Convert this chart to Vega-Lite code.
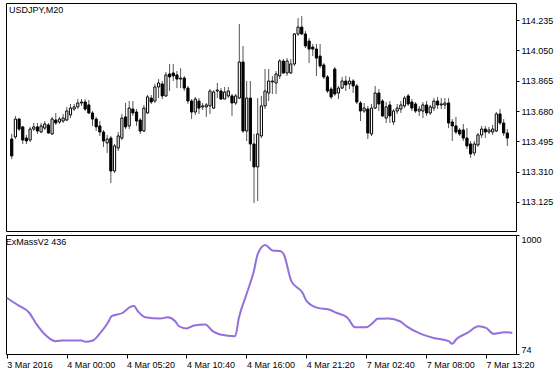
{
  "$schema": "https://vega.github.io/schema/vega-lite/v6.json",
  "padding": {"left": 2, "top": 2, "right": 0, "bottom": 0},
  "background": "#ffffff",
  "spacing": 2,
  "config": {
    "font": "Liberation Sans",
    "view": {"stroke": "#000000", "strokeWidth": 1},
    "axis": {"labelFont": "Liberation Sans", "labelFontSize": 9, "labelColor": "#000000", "tickColor": "#000000", "domain": false, "grid": false, "title": null, "labelOverlap": false},
    "title": {"font": "Liberation Sans", "fontSize": 9, "fontWeight": "normal", "color": "#000000", "anchor": "start"}
  },
  "datasets": {
    "candles": [
      {"i":0,"o":113.509,"h":113.540,"l":113.387,"c":113.406},
      {"i":1,"o":113.522,"h":113.650,"l":113.509,"c":113.631},
      {"i":2,"o":113.631,"h":113.637,"l":113.558,"c":113.570},
      {"i":3,"o":113.583,"h":113.589,"l":113.479,"c":113.503},
      {"i":4,"o":113.515,"h":113.534,"l":113.479,"c":113.497},
      {"i":5,"o":113.503,"h":113.583,"l":113.491,"c":113.570},
      {"i":6,"o":113.570,"h":113.607,"l":113.558,"c":113.583},
      {"i":7,"o":113.583,"h":113.607,"l":113.540,"c":113.558},
      {"i":8,"o":113.552,"h":113.607,"l":113.546,"c":113.589},
      {"i":9,"o":113.576,"h":113.619,"l":113.564,"c":113.601},
      {"i":10,"o":113.595,"h":113.607,"l":113.540,"c":113.546},
      {"i":11,"o":113.540,"h":113.644,"l":113.534,"c":113.631},
      {"i":12,"o":113.625,"h":113.668,"l":113.595,"c":113.607},
      {"i":13,"o":113.613,"h":113.644,"l":113.601,"c":113.631},
      {"i":14,"o":113.619,"h":113.662,"l":113.607,"c":113.637},
      {"i":15,"o":113.625,"h":113.705,"l":113.619,"c":113.680},
      {"i":16,"o":113.656,"h":113.723,"l":113.637,"c":113.698},
      {"i":17,"o":113.692,"h":113.723,"l":113.680,"c":113.705},
      {"i":18,"o":113.705,"h":113.753,"l":113.692,"c":113.729},
      {"i":19,"o":113.729,"h":113.753,"l":113.711,"c":113.735},
      {"i":20,"o":113.735,"h":113.753,"l":113.680,"c":113.692},
      {"i":21,"o":113.717,"h":113.747,"l":113.662,"c":113.668},
      {"i":22,"o":113.668,"h":113.680,"l":113.589,"c":113.631},
      {"i":23,"o":113.631,"h":113.644,"l":113.558,"c":113.583},
      {"i":24,"o":113.589,"h":113.619,"l":113.528,"c":113.552},
      {"i":25,"o":113.552,"h":113.564,"l":113.461,"c":113.497},
      {"i":26,"o":113.485,"h":113.534,"l":113.424,"c":113.509},
      {"i":27,"o":113.515,"h":113.528,"l":113.241,"c":113.314},
      {"i":28,"o":113.314,"h":113.479,"l":113.302,"c":113.467},
      {"i":29,"o":113.454,"h":113.552,"l":113.436,"c":113.528},
      {"i":30,"o":113.515,"h":113.662,"l":113.503,"c":113.637},
      {"i":31,"o":113.644,"h":113.729,"l":113.570,"c":113.583},
      {"i":32,"o":113.589,"h":113.741,"l":113.570,"c":113.698},
      {"i":33,"o":113.692,"h":113.741,"l":113.650,"c":113.668},
      {"i":34,"o":113.674,"h":113.692,"l":113.589,"c":113.619},
      {"i":35,"o":113.625,"h":113.637,"l":113.540,"c":113.558},
      {"i":36,"o":113.558,"h":113.717,"l":113.552,"c":113.698},
      {"i":37,"o":113.668,"h":113.778,"l":113.662,"c":113.766},
      {"i":38,"o":113.759,"h":113.778,"l":113.723,"c":113.735},
      {"i":39,"o":113.741,"h":113.845,"l":113.729,"c":113.827},
      {"i":40,"o":113.827,"h":113.875,"l":113.759,"c":113.851},
      {"i":41,"o":113.845,"h":113.863,"l":113.753,"c":113.772},
      {"i":42,"o":113.772,"h":113.918,"l":113.766,"c":113.900},
      {"i":43,"o":113.906,"h":113.967,"l":113.802,"c":113.888},
      {"i":44,"o":113.912,"h":113.967,"l":113.863,"c":113.894},
      {"i":45,"o":113.900,"h":113.924,"l":113.820,"c":113.875},
      {"i":46,"o":113.875,"h":113.942,"l":113.820,"c":113.881},
      {"i":47,"o":113.881,"h":113.894,"l":113.802,"c":113.820},
      {"i":48,"o":113.820,"h":113.833,"l":113.723,"c":113.741},
      {"i":49,"o":113.741,"h":113.753,"l":113.631,"c":113.674},
      {"i":50,"o":113.674,"h":113.766,"l":113.656,"c":113.753},
      {"i":51,"o":113.741,"h":113.759,"l":113.662,"c":113.698},
      {"i":52,"o":113.705,"h":113.729,"l":113.686,"c":113.711},
      {"i":53,"o":113.705,"h":113.729,"l":113.644,"c":113.717},
      {"i":54,"o":113.711,"h":113.814,"l":113.662,"c":113.802},
      {"i":55,"o":113.698,"h":113.808,"l":113.692,"c":113.796},
      {"i":56,"o":113.802,"h":113.851,"l":113.759,"c":113.808},
      {"i":57,"o":113.802,"h":113.820,"l":113.747,"c":113.753},
      {"i":58,"o":113.753,"h":113.827,"l":113.753,"c":113.796},
      {"i":59,"o":113.772,"h":113.827,"l":113.759,"c":113.802},
      {"i":60,"o":113.772,"h":113.784,"l":113.650,"c":113.729},
      {"i":61,"o":113.729,"h":113.784,"l":113.717,"c":113.772},
      {"i":62,"o":113.759,"h":114.211,"l":113.753,"c":113.979},
      {"i":63,"o":113.979,"h":114.077,"l":113.546,"c":113.558},
      {"i":64,"o":113.558,"h":113.863,"l":113.497,"c":113.759},
      {"i":65,"o":113.759,"h":113.863,"l":113.375,"c":113.479},
      {"i":66,"o":113.479,"h":113.540,"l":113.119,"c":113.339},
      {"i":67,"o":113.339,"h":113.759,"l":113.131,"c":113.540},
      {"i":68,"o":113.528,"h":113.772,"l":113.515,"c":113.711},
      {"i":69,"o":113.711,"h":113.936,"l":113.692,"c":113.802},
      {"i":70,"o":113.790,"h":113.936,"l":113.741,"c":113.863},
      {"i":71,"o":113.857,"h":113.894,"l":113.784,"c":113.863},
      {"i":72,"o":113.851,"h":113.924,"l":113.784,"c":113.906},
      {"i":73,"o":113.894,"h":113.997,"l":113.875,"c":113.985},
      {"i":74,"o":113.985,"h":113.997,"l":113.906,"c":113.912},
      {"i":75,"o":113.912,"h":114.003,"l":113.894,"c":113.985},
      {"i":76,"o":113.912,"h":113.997,"l":113.906,"c":113.967},
      {"i":77,"o":113.967,"h":114.156,"l":113.955,"c":114.150},
      {"i":78,"o":114.150,"h":114.247,"l":114.138,"c":114.192},
      {"i":79,"o":114.192,"h":114.259,"l":114.144,"c":114.150},
      {"i":80,"o":114.150,"h":114.168,"l":114.064,"c":114.077},
      {"i":81,"o":114.107,"h":114.125,"l":113.973,"c":114.058},
      {"i":82,"o":114.070,"h":114.089,"l":114.015,"c":114.058},
      {"i":83,"o":114.058,"h":114.089,"l":113.894,"c":114.003},
      {"i":84,"o":114.015,"h":114.089,"l":113.942,"c":113.955},
      {"i":85,"o":113.961,"h":113.973,"l":113.875,"c":113.888},
      {"i":86,"o":113.888,"h":113.900,"l":113.790,"c":113.802},
      {"i":87,"o":113.814,"h":113.827,"l":113.753,"c":113.766},
      {"i":88,"o":113.936,"h":113.949,"l":113.772,"c":113.784},
      {"i":89,"o":113.790,"h":113.833,"l":113.753,"c":113.820},
      {"i":90,"o":113.820,"h":113.888,"l":113.814,"c":113.863},
      {"i":91,"o":113.863,"h":113.894,"l":113.802,"c":113.839},
      {"i":92,"o":113.845,"h":113.888,"l":113.814,"c":113.863},
      {"i":93,"o":113.863,"h":113.875,"l":113.790,"c":113.833},
      {"i":94,"o":113.833,"h":113.845,"l":113.723,"c":113.735},
      {"i":95,"o":113.729,"h":113.741,"l":113.619,"c":113.680},
      {"i":96,"o":113.680,"h":113.729,"l":113.668,"c":113.698},
      {"i":97,"o":113.692,"h":113.711,"l":113.509,"c":113.546},
      {"i":98,"o":113.540,"h":113.723,"l":113.528,"c":113.698},
      {"i":99,"o":113.698,"h":113.833,"l":113.692,"c":113.790},
      {"i":100,"o":113.790,"h":113.814,"l":113.680,"c":113.723},
      {"i":101,"o":113.741,"h":113.753,"l":113.644,"c":113.650},
      {"i":102,"o":113.637,"h":113.735,"l":113.607,"c":113.705},
      {"i":103,"o":113.717,"h":113.741,"l":113.607,"c":113.650},
      {"i":104,"o":113.613,"h":113.692,"l":113.595,"c":113.680},
      {"i":105,"o":113.680,"h":113.723,"l":113.662,"c":113.698},
      {"i":106,"o":113.692,"h":113.741,"l":113.668,"c":113.717},
      {"i":107,"o":113.711,"h":113.772,"l":113.698,"c":113.759},
      {"i":108,"o":113.772,"h":113.784,"l":113.711,"c":113.723},
      {"i":109,"o":113.735,"h":113.753,"l":113.680,"c":113.698},
      {"i":110,"o":113.723,"h":113.735,"l":113.668,"c":113.680},
      {"i":111,"o":113.680,"h":113.711,"l":113.650,"c":113.692},
      {"i":112,"o":113.680,"h":113.735,"l":113.637,"c":113.717},
      {"i":113,"o":113.717,"h":113.741,"l":113.650,"c":113.668},
      {"i":114,"o":113.668,"h":113.717,"l":113.656,"c":113.705},
      {"i":115,"o":113.698,"h":113.759,"l":113.680,"c":113.741},
      {"i":116,"o":113.741,"h":113.766,"l":113.692,"c":113.717},
      {"i":117,"o":113.717,"h":113.759,"l":113.692,"c":113.723},
      {"i":118,"o":113.717,"h":113.759,"l":113.692,"c":113.729},
      {"i":119,"o":113.729,"h":113.759,"l":113.576,"c":113.607},
      {"i":120,"o":113.613,"h":113.631,"l":113.497,"c":113.589},
      {"i":121,"o":113.589,"h":113.644,"l":113.540,"c":113.552},
      {"i":122,"o":113.564,"h":113.576,"l":113.528,"c":113.540},
      {"i":123,"o":113.564,"h":113.601,"l":113.497,"c":113.515},
      {"i":124,"o":113.515,"h":113.576,"l":113.448,"c":113.467},
      {"i":125,"o":113.479,"h":113.497,"l":113.394,"c":113.418},
      {"i":126,"o":113.424,"h":113.497,"l":113.406,"c":113.479},
      {"i":127,"o":113.473,"h":113.546,"l":113.461,"c":113.534},
      {"i":128,"o":113.534,"h":113.589,"l":113.515,"c":113.570},
      {"i":129,"o":113.570,"h":113.589,"l":113.515,"c":113.552},
      {"i":130,"o":113.552,"h":113.583,"l":113.540,"c":113.564},
      {"i":131,"o":113.552,"h":113.595,"l":113.534,"c":113.570},
      {"i":132,"o":113.558,"h":113.674,"l":113.552,"c":113.662},
      {"i":133,"o":113.662,"h":113.692,"l":113.595,"c":113.607},
      {"i":134,"o":113.607,"h":113.631,"l":113.528,"c":113.546},
      {"i":135,"o":113.546,"h":113.570,"l":113.467,"c":113.515}
    ],
    "mass": [
      {"i":0,"v":511},{"i":3,"v":454},{"i":6,"v":395},{"i":8,"v":304},{"i":10,"v":231},
      {"i":13,"v":174},{"i":15,"v":179},{"i":20,"v":179},{"i":21,"v":169},{"i":23,"v":179},
      {"i":25,"v":238},{"i":27,"v":317},{"i":28,"v":368},{"i":31,"v":395},{"i":33,"v":441},
      {"i":34,"v":447},{"i":35,"v":407},{"i":37,"v":360},{"i":41,"v":350},{"i":43,"v":360},
      {"i":45,"v":329},{"i":46,"v":290},{"i":48,"v":273},{"i":50,"v":296},{"i":53,"v":304},
      {"i":55,"v":252},{"i":57,"v":226},{"i":61,"v":213},{"i":62,"v":356},{"i":64,"v":537},
      {"i":66,"v":719},{"i":67,"v":849},{"i":69,"v":922},{"i":71,"v":880},{"i":73,"v":875},
      {"i":74,"v":849},{"i":76,"v":641},{"i":79,"v":550},{"i":80,"v":490},{"i":83,"v":433},
      {"i":86,"v":420},{"i":88,"v":395},{"i":91,"v":356},{"i":93,"v":283},{"i":96,"v":283},
      {"i":98,"v":322},{"i":99,"v":348},{"i":102,"v":350},{"i":105,"v":329},{"i":107,"v":285},
      {"i":110,"v":238},{"i":114,"v":199},{"i":118,"v":174},{"i":119,"v":153},{"i":120,"v":187},
      {"i":123,"v":238},{"i":126,"v":290},{"i":128,"v":277},{"i":130,"v":231},{"i":133,"v":244},
      {"i":135,"v":238}
    ]
  },
  "vconcat": [
    {
      "width": 510,
      "height": 228,
      "title": {"text": "USDJPY,M20", "offset": -12, "dx": 3},
      "data": {"name": "candles"},
      "encoding": {
        "x": {"field": "i", "type": "quantitative", "scale": {"domain": [-0.2, 136], "nice": false, "zero": false}, "axis": null}
      },
      "layer": [
        {
          "mark": {"type": "rule", "color": "#555555", "strokeWidth": 1},
          "encoding": {
            "y": {"field": "l", "type": "quantitative", "scale": {"domain": [112.948, 114.339], "nice": false, "zero": false},
              "axis": {"orient": "right", "values": [113.125, 113.31, 113.495, 113.68, 113.865, 114.05, 114.235], "tickCount": 20, "format": ".3f", "tickSize": 3, "labelPadding": 2, "labelOverlap": false}},
            "y2": {"field": "h"}
          }
        },
        {
          "mark": {"type": "bar", "width": 2.2, "stroke": "#000000", "strokeWidth": 1},
          "encoding": {
            "y": {"field": "o", "type": "quantitative"},
            "y2": {"field": "c"},
            "fill": {"condition": {"test": "datum.c >= datum.o", "value": "#ffffff"}, "value": "#000000"}
          }
        }
      ]
    },
    {
      "width": 510,
      "height": 119,
      "title": {"text": "ExMassV2 436", "offset": -12, "dx": 3},
      "data": {"name": "mass"},
      "mark": {"type": "line", "color": "#9370DB", "strokeWidth": 2, "interpolate": "monotone"},
      "encoding": {
        "x": {"field": "i", "type": "quantitative", "scale": {"domain": [-0.2, 136], "nice": false, "zero": false},
          "axis": {"values": [0, 16, 32, 48, 64, 80, 96, 112, 128], "tickCount": 20, "labelExpr": "['3 Mar 2016','4 Mar 00:00','4 Mar 05:20','4 Mar 10:40','4 Mar 16:00','4 Mar 21:20','7 Mar 02:40','7 Mar 08:00','7 Mar 13:20'][round(datum.value/16)]", "labelAlign": "left", "tickSize": 4, "labelPadding": 2, "labelOverlap": false, "labelFlush": false}},
        "y": {"field": "v", "type": "quantitative", "scale": {"domain": [74, 1000], "nice": false, "zero": false},
          "axis": {"orient": "right", "values": [74, 1000], "format": "d", "labelFlush": true, "tickSize": 3, "labelPadding": 2}}
      }
    }
  ]
}
